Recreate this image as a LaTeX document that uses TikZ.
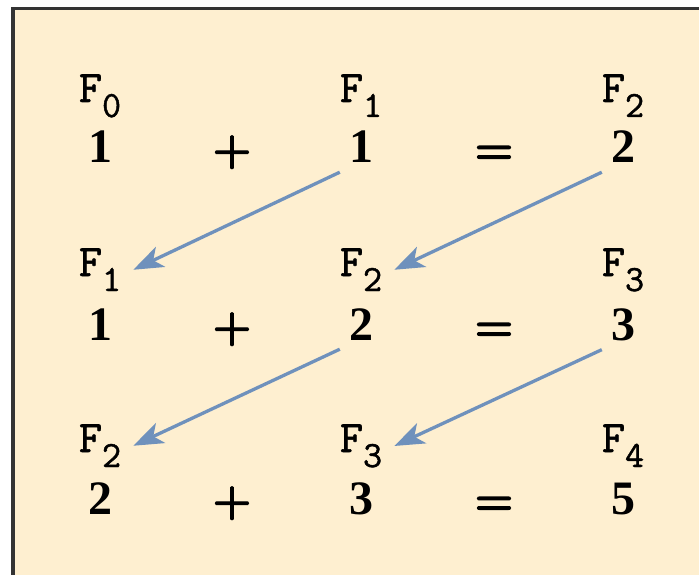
\documentclass[tikz,border=0pt]{standalone}
\usepackage{fontspec}
\setmainfont{Liberation Serif}
\newfontfamily\monofont{Latin Modern Mono}[FakeBold=1.2]
\newfontfamily\opfont{lmroman10-bold}[Extension=.otf, FakeBold=3]
\usetikzlibrary{arrows.meta}
\definecolor{panel}{HTML}{FEEFD0}
\definecolor{edge}{HTML}{333333}
\definecolor{arrowblue}{HTML}{6F91BC}
\newcommand{\fib}[1]{F\raisebox{-15pt}{\fontsize{37}{37}\selectfont #1}}

\begin{document}
\begin{tikzpicture}[x=1pt, y=-1pt,
  numbox/.style={
    anchor=base, inner sep=9pt,
    font=\fontsize{48}{48}\selectfont\bfseries
  },
  opbox/.style={
    anchor=base, inner sep=0pt,
    font=\fontsize{43}{43}\selectfont\opfont
  },
  labbox/.style={
    anchor=base, inner xsep=12pt, inner ysep=0pt,
    font=\fontsize{45}{45}\selectfont\monofont
  },
  fibarr/.style={-{Stealth[length=30pt, width=22pt, inset=8pt]},
    arrowblue, line width=3.3pt},
]
\useasboundingbox (0,0) rectangle (699,575);
\clip (0,0) rectangle (699,575);
\fill[white] (0,0) rectangle (699,575);
\draw[edge, fill=panel, line width=3.5pt] (13,8.5) rectangle (730,600);
% row 1
\node[labbox] (lab11) at (100,102) {\fib{0}};
\node[labbox] (lab12) at (361,102) {\fib{1}};
\node[labbox] (lab13) at (623,102) {\fib{2}};
\node[numbox] (num11) at (100,163) {1};
\node[opbox]  (plus1) at (232,163) {+};
\node[numbox] (num12) at (361,163) {1};
\node[opbox]  (eq1)   at (494,163) {=};
\node[numbox] (num13) at (623,163) {2};
% row 2
\node[labbox] (lab21) at (100,276) {\fib{1}};
\node[labbox] (lab22) at (361,276) {\fib{2}};
\node[labbox] (lab23) at (623,276) {\fib{3}};
\node[numbox] (num21) at (100,340) {1};
\node[opbox]  (plus2) at (232,340) {+};
\node[numbox] (num22) at (361,340) {2};
\node[opbox]  (eq2)   at (494,340) {=};
\node[numbox] (num23) at (623,340) {3};
% row 3
\node[labbox] (lab31) at (100,452) {\fib{2}};
\node[labbox] (lab32) at (361,452) {\fib{3}};
\node[labbox] (lab33) at (623,452) {\fib{4}};
\node[numbox] (num31) at (100,514) {2};
\node[opbox]  (plus3) at (232,514) {+};
\node[numbox] (num32) at (361,514) {3};
\node[opbox]  (eq3)   at (494,514) {=};
\node[numbox] (num33) at (623,514) {5};
% carries
\draw[fibarr] (num12.south west) -- (lab21.east);
\draw[fibarr] (num13.south west) -- (lab22.east);
\draw[fibarr] (num22.south west) -- (lab31.east);
\draw[fibarr] (num23.south west) -- (lab32.east);
\end{tikzpicture}
\end{document}
